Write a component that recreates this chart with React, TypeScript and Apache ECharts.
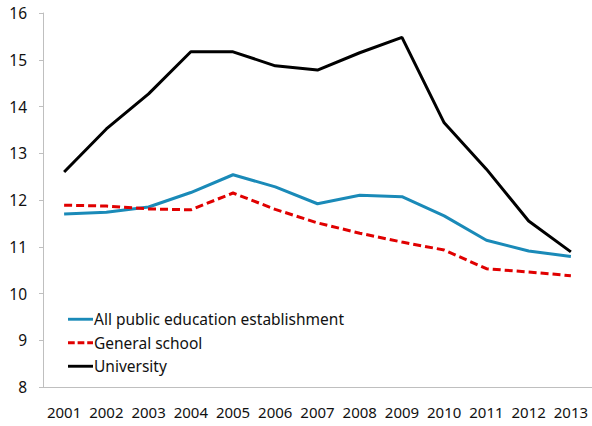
import React, { useEffect, useRef } from "react";
import * as echarts from "echarts";

const years = ["2001","2002","2003","2004","2005","2006","2007","2008","2009","2010","2011","2012","2013"];
const allPublic = [11.70, 11.74, 11.85, 12.16, 12.54, 12.28, 11.92, 12.10, 12.07, 11.66, 11.14, 10.91, 10.79];
const generalSchool = [11.89, 11.87, 11.81, 11.79, 12.15, 11.80, 11.51, 11.29, 11.10, 10.93, 10.53, 10.46, 10.38];
const university = [12.60, 13.52, 14.27, 15.17, 15.17, 14.87, 14.78, 15.15, 15.48, 13.65, 12.66, 11.55, 10.89];
const legendNames = ["All public education establishment", "General school", "University"];
const yMin = 8;
const yMax = 16;

export default function App() {
  const ref = useRef<HTMLDivElement>(null);
  useEffect(() => {
    if (!ref.current) return;
    const chart = echarts.init(ref.current, undefined, { renderer: "svg" });
    const font = "'Noto Sans', sans-serif";
    const solidIcon = "path://M0,0h26v3h-26z";
    const dashIcon = "path://M0,0h7v3h-7zM10,0h7v3h-7zM20,0h6v3h-6z";
    chart.setOption({
      animation: false,
      backgroundColor: "#ffffff",
      grid: { left: 43, top: 13, width: 553, bottom: 39, containLabel: false },
      legend: {
        orient: "vertical",
        left: 63,
        top: 305,
        itemWidth: 25,
        itemHeight: 3,
        itemGap: 5,
        textStyle: { fontFamily: font, fontSize: 15.5, color: "#111111", lineHeight: 18.5, padding: [0, 0, 0, -4] },
        data: [
          { name: legendNames[0], icon: solidIcon },
          { name: legendNames[1], icon: dashIcon },
          { name: legendNames[2], icon: solidIcon },
        ],
      },
      xAxis: {
        type: "category",
        data: years,
        boundaryGap: true,
        axisLine: { lineStyle: { color: "#bfbfbf", width: 1 } },
        axisTick: { inside: true, length: 5, lineStyle: { color: "#bfbfbf" } },
        axisLabel: { interval: 0, fontFamily: font, fontSize: 15, color: "#111111", margin: 17 },
        splitLine: { show: false },
      },
      yAxis: {
        type: "value",
        min: yMin,
        max: yMax,
        interval: 1,
        axisLine: { show: true, lineStyle: { color: "#bfbfbf", width: 1 } },
        axisTick: { show: true, length: 4, lineStyle: { color: "#bfbfbf" } },
        axisLabel: { fontFamily: font, fontSize: 15.5, color: "#111111", margin: 16 },
        splitLine: { show: false },
      },
      series: [
        {
          name: legendNames[0],
          type: "line",
          data: allPublic,
          symbol: "none",
          color: "#1a8ab8",
          lineStyle: { color: "#1a8ab8", width: 3 },
        },
        {
          name: legendNames[1],
          type: "line",
          data: generalSchool,
          symbol: "none",
          color: "#e00000",
          lineStyle: { color: "#e00000", width: 3, type: [8, 4] },
        },
        {
          name: legendNames[2],
          type: "line",
          data: university,
          symbol: "none",
          color: "#000000",
          lineStyle: { color: "#000000", width: 3 },
        },
      ],
    });
    return () => chart.dispose();
  }, []);
  return <div ref={ref} style={{ width: 592, height: 426, position: "absolute", left: 0, top: 0 }} />;
}
